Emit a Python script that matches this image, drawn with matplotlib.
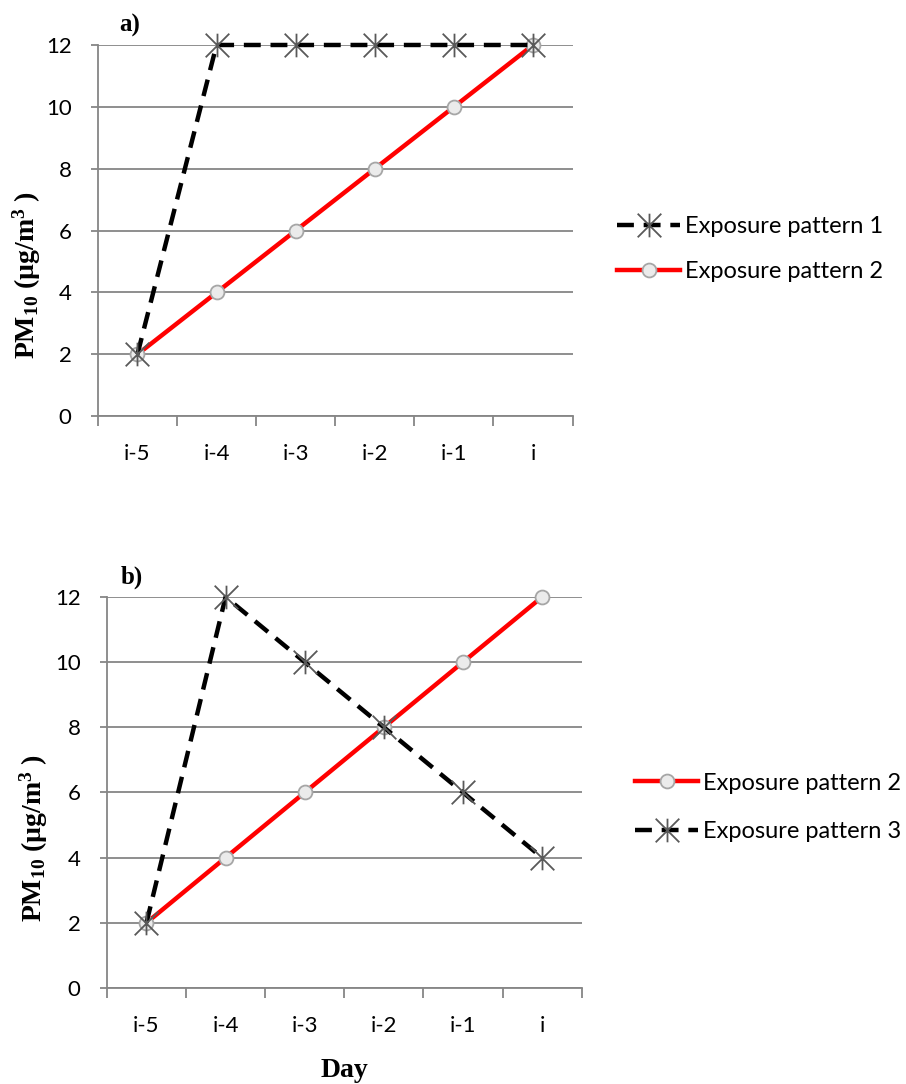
import numpy as np
import matplotlib
matplotlib.use("Agg")
import matplotlib.pyplot as plt
from matplotlib.path import Path

days = ["i-5", "i-4", "i-3", "i-2", "i-1", "i"]
pattern1 = [2, 12, 12, 12, 12, 12]
pattern2 = [2, 4, 6, 8, 10, 12]
pattern3 = [2, 12, 10, 8, 6, 4]

plt.rcParams['font.family'] = ['Lato', 'DejaVu Sans']
plt.rcParams['mathtext.fontset'] = 'custom'
plt.rcParams['mathtext.rm'] = 'Liberation Serif:bold'
plt.rcParams['mathtext.it'] = 'Liberation Serif:bold'
plt.rcParams['mathtext.bf'] = 'Liberation Serif:bold'

# Excel style asterisk: X plus a vertical bar
star = Path([(0, -1), (0, 1), (-1, -1), (1, 1), (-1, 1), (1, -1)],
            [Path.MOVETO, Path.LINETO] * 3)

grid_c = '#868686'
x = np.arange(len(days))

def draw_p1(ax, y, lab):
    ax.plot(x, y, color='black', lw=3.2, ls=(0, (3.8, 2.2)), marker=star,
            ms=17, mec='#595959', mfc='none', mew=1.3, label=lab, zorder=4,
            clip_on=False)

def draw_p2(ax, lab):
    ax.plot(x, pattern2, color='#FF0000', lw=3.2, marker='o', ms=10,
            mfc='#EBEBEB', mec='#A6A6A6', mew=1.3, label=lab, zorder=3,
            clip_on=False)

def style(ax, lx, ly):
    ax.set_xlim(-0.5, 5.5)
    ax.set_ylim(0, 12)
    ax.set_yticks(range(0, 13, 2))
    ax.grid(axis='y', color=grid_c, lw=1.3)
    ax.set_axisbelow(True)
    for s in ['top', 'right']:
        ax.spines[s].set_visible(False)
    for s in ['left', 'bottom']:
        ax.spines[s].set_color(grid_c)
        ax.spines[s].set_linewidth(1.3)
    ax.set_xticks(x)
    ax.set_xticklabels(days)
    ax.set_xticks(np.arange(-0.5, 6, 1), minor=True)
    ax.tick_params(axis='x', which='major', length=0, pad=20, labelsize=16)
    ax.tick_params(axis='x', which='minor', length=7, width=1.3, color=grid_c)
    ax.tick_params(axis='y', length=5, width=1.3, color=grid_c, pad=14,
                   labelsize=16)
    ax.set_ylabel('PM$_{10}$ (µg/m$^{3}$ )', family='Liberation Serif',
                  fontweight='bold', fontsize=20)
    ax.yaxis.set_label_coords(lx, ly)

def legend(ax, bx):
    ax.legend(loc='center left', bbox_to_anchor=(bx, 0.45), frameon=False,
              fontsize=17, handlelength=2.7, labelspacing=1.0,
              handletextpad=0.2)

fig = plt.figure(figsize=(9.06, 10.84), dpi=100)

ax1 = fig.add_axes([0.108, 0.616, 0.524, 0.3425])
draw_p1(ax1, pattern1, 'Exposure pattern 1')
draw_p2(ax1, 'Exposure pattern 2')
style(ax1, -0.115, 0.38)
legend(ax1, 1.048)
ax1.text(0.045, 1.035, 'a)', transform=ax1.transAxes, family='Liberation Serif',
         fontweight='bold', fontsize=18)

ax2 = fig.add_axes([0.118, 0.0886, 0.524, 0.3607])
draw_p2(ax2, 'Exposure pattern 2')
draw_p1(ax2, pattern3, 'Exposure pattern 3')
style(ax2, -0.12, 0.384)
ax2.legend(loc='center left', bbox_to_anchor=(1.067, 0.462), frameon=False,
           fontsize=17, handlelength=2.7, labelspacing=1.15,
           handletextpad=0.2)
ax2.text(0.03, 1.035, 'b)', transform=ax2.transAxes, family='Liberation Serif',
         fontweight='bold', fontsize=18)
ax2.set_xlabel('Day', family='Liberation Serif', fontweight='bold', fontsize=20)
ax2.xaxis.set_label_coords(0.5, -0.18)

fig.savefig('out.png', dpi=100)
